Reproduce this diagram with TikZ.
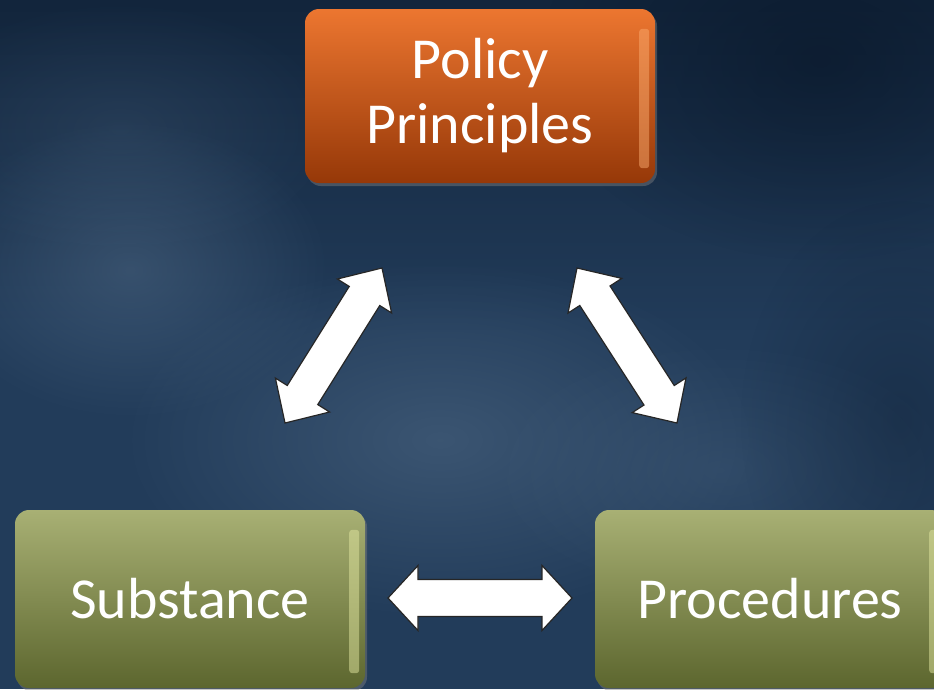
\documentclass[tikz,border=0pt]{standalone}
\usepackage{fontspec}
\setmainfont{Carlito}
\usetikzlibrary{calc,fadings,shadows}
\definecolor{bgbase}{RGB}{34,60,90}
\definecolor{bglight}{RGB}{80,106,134}
\definecolor{bgdark}{RGB}{8,22,40}
\definecolor{orTop}{RGB}{236,118,48}
\definecolor{orBot}{RGB}{150,56,8}
\definecolor{orHi}{RGB}{250,170,110}
\definecolor{grTop}{RGB}{168,176,116}
\definecolor{grBot}{RGB}{92,102,46}
\definecolor{grHi}{RGB}{225,230,160}
\tikzfading[name=fuzzy, inner color=transparent!0, outer color=transparent!100]
\tikzfading[name=topdark, top color=transparent!0, bottom color=transparent!100]
\newcommand{\fatarrow}[5]{%
  \filldraw[arrowstyle] (#1) -- ($(#1)!#5!(#2)!#4!90:(#2)$) -- ($(#1)!#5!(#2)!#3!90:(#2)$)
   -- ($(#2)!#5!(#1)!#3!-90:(#1)$) -- ($(#2)!#5!(#1)!#4!-90:(#1)$) -- (#2)
   -- ($(#2)!#5!(#1)!#4!90:(#1)$) -- ($(#2)!#5!(#1)!#3!90:(#1)$)
   -- ($(#1)!#5!(#2)!#3!-90:(#2)$) -- ($(#1)!#5!(#2)!#4!-90:(#2)$) -- cycle;}
\begin{document}
\begin{tikzpicture}[x=1pt,y=-1pt,
  box/.style={rectangle, rounded corners=14pt, minimum width=350pt, text=white,
    align=center, font=\fontsize{58}{65}\selectfont,
    drop shadow={opacity=0.45, shadow xshift=2pt, shadow yshift=-3pt}},
  orangebox/.style={box, minimum height=174pt, top color=orTop, bottom color=orBot},
  greenbox/.style={box, minimum height=178pt, top color=grTop, bottom color=grBot},
  arrowstyle/.style={fill=white, draw=black!85, line width=1.2pt, line join=miter}]
\useasboundingbox (0,0) rectangle (934,689);
\clip (0,0) rectangle (934,689);
% background
\fill[bgbase] (0,0) rectangle (934,689);
\fill[bgdark, path fading=topdark, opacity=0.6] (0,0) rectangle (934,330);
\fill[bgdark, path fading=fuzzy, opacity=0.6] (820,60) ellipse (280 and 200);
\fill[bglight, path fading=fuzzy, opacity=0.5] (130,270) ellipse (200 and 150);
\fill[bglight, path fading=fuzzy, opacity=0.55] (440,440) ellipse (320 and 180);
\fill[bglight, path fading=fuzzy, opacity=0.25] (120,130) ellipse (220 and 130);
\fill[bglight, path fading=fuzzy, opacity=0.3] (720,470) ellipse (240 and 130);
\fill[bgdark, path fading=fuzzy, opacity=0.3] (900,420) ellipse (160 and 220);
% boxes
\node[orangebox] (pp) at (480,96) {Policy\\Principles};
\node[greenbox] (sub) at (190,599) {Substance};
\node[greenbox] (proc) at (770,599) {Procedures};
% highlights
\fill[orHi, opacity=0.5, rounded corners=3pt] ($(pp.north east)+(-16,20)$) rectangle ($(pp.south east)+(-6,-15)$);
\fill[grHi, opacity=0.5, rounded corners=3pt] ($(sub.north east)+(-16,20)$) rectangle ($(sub.south east)+(-6,-15)$);
\fill[grHi, opacity=0.5, rounded corners=3pt] ($(proc.north east)+(-16,20)$) rectangle ($(proc.south east)+(-6,-15)$);
% arrows
\coordinate (la1) at (382,268);
\coordinate (la2) at (285,423);
\coordinate (ra1) at (577,268);
\coordinate (ra2) at (677,423);
\coordinate (ha1) at (388,598);
\coordinate (ha2) at (572,598);
\fatarrow{la1}{la2}{18pt}{32pt}{33pt}
\fatarrow{ra1}{ra2}{18pt}{32pt}{33pt}
\fatarrow{ha1}{ha2}{18.5pt}{32.5pt}{30pt}
\end{tikzpicture}
\end{document}
